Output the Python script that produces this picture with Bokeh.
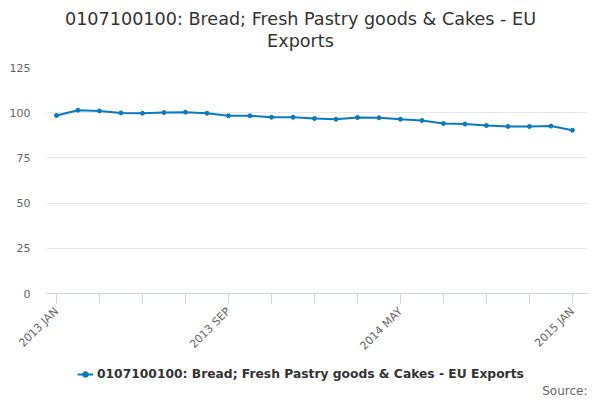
import math
from bokeh.plotting import figure
from bokeh.layouts import column
from bokeh.models import (Label, FixedTicker, Range1d, Legend, LegendItem,
                          ColumnDataSource)
from bokeh.embed import file_html
from bokeh.resources import INLINE

series_name = "0107100100: Bread; Fresh Pastry goods & Cakes - EU Exports"
title_lines = ["0107100100: Bread; Fresh Pastry goods & Cakes - EU", "Exports"]
source_text = "Source:"
months = ["2013 JAN", "2013 FEB", "2013 MAR", "2013 APR", "2013 MAY", "2013 JUN",
          "2013 JUL", "2013 AUG", "2013 SEP", "2013 OCT", "2013 NOV", "2013 DEC",
          "2014 JAN", "2014 FEB", "2014 MAR", "2014 APR", "2014 MAY", "2014 JUN",
          "2014 JUL", "2014 AUG", "2014 SEP", "2014 OCT", "2014 NOV", "2014 DEC",
          "2015 JAN"]
values = [98.5, 101.4, 101.0, 99.9, 99.7, 100.1, 100.3, 99.7, 98.3, 98.3,
          97.5, 97.5, 96.8, 96.4, 97.3, 97.2, 96.4, 95.7, 94.0, 93.7,
          92.9, 92.4, 92.4, 92.6, 90.3]
y_ticks = [0, 25, 50, 75, 100, 125]
x_label_months = ["2013 JAN", "2013 SEP", "2014 MAY", "2015 JAN"]

FONT = "DejaVu Sans"
BLUE = "#0b7bc1"
W = 592
FL, FR = 46, 587   # frame left / right in page pixels (frames are aligned in column)

# ---------- title strip ----------
pt = figure(width=W, height=60, output_backend="svg", toolbar_location=None,
            x_range=Range1d(FL, FR), y_range=Range1d(60, 0),
            x_axis_location=None, y_axis_location=None,
            min_border_left=FL, min_border_right=W - FR,
            min_border_top=0, min_border_bottom=0)
pt.outline_line_color = None
pt.grid.visible = False
for i, txt in enumerate(title_lines):
    pt.add_layout(Label(x=300, y=18 + 22 * i, text=txt, text_align="center",
                        text_baseline="middle", text_font=FONT,
                        text_font_size="17.6px", text_color="#333333"))

# ---------- main chart ----------
idx = list(range(len(months)))
src = ColumnDataSource(dict(x=idx, y=values))

p = figure(width=W, height=300, output_backend="svg", toolbar_location=None,
           x_range=Range1d(-0.465, 24.7), y_range=Range1d(0, 125),
           min_border_left=FL, min_border_right=W - FR, min_border_top=7,
           min_border_bottom=67)
p.outline_line_color = None

p.line("x", "y", source=src, line_color=BLUE, line_width=2)
p.scatter("x", "y", source=src, size=4, fill_color=BLUE, line_color=BLUE)

p.yaxis.ticker = FixedTicker(ticks=y_ticks)
p.yaxis.axis_line_color = None
p.yaxis.major_tick_line_color = None
p.yaxis.minor_tick_line_color = None
p.yaxis.major_label_text_font = FONT
p.yaxis.major_label_text_font_size = "11px"
p.yaxis.major_label_text_color = "#666666"
p.yaxis.major_label_standoff = 10
p.ygrid.ticker = FixedTicker(ticks=y_ticks)
p.ygrid.grid_line_color = "#e6e6e6"
p.xgrid.grid_line_color = None

xt = list(range(0, 25, 2))
p.xaxis.ticker = FixedTicker(ticks=xt)
p.xaxis.major_label_overrides = {t: (months[t] if months[t] in x_label_months else "")
                                 for t in xt}
p.xaxis.major_label_orientation = math.pi / 4
p.xaxis.axis_line_color = "#ccd6eb"
p.xaxis.major_tick_line_color = "#ccd6eb"
p.xaxis.major_tick_in = 0
p.xaxis.major_tick_out = 10
p.xaxis.minor_tick_line_color = None
p.xaxis.major_label_text_font = FONT
p.xaxis.major_label_text_font_size = "11px"
p.xaxis.major_label_text_color = "#666666"
p.xaxis.major_label_standoff = 6

# ---------- legend strip ----------
pl = figure(width=W, height=38, output_backend="svg", toolbar_location=None,
            x_range=Range1d(FL, FR), y_range=Range1d(38, 0),
            x_axis_location=None, y_axis_location=None,
            min_border_left=FL, min_border_right=W - FR,
            min_border_top=0, min_border_bottom=0)
pl.outline_line_color = None
pl.grid.visible = False
l1 = pl.line("x", "y", source=src, line_color=BLUE, line_width=2, visible=False)
l2 = pl.scatter("x", "y", source=src, size=4, fill_color=BLUE, line_color=BLUE,
                visible=False)
legend = Legend(items=[LegendItem(label=series_name, renderers=[l1, l2])],
                orientation="horizontal", location=(77 - FL, 17),
                label_text_font=FONT, label_text_font_size="12.3px",
                label_text_font_style="bold", label_text_color="#333333",
                border_line_color=None, background_fill_alpha=0,
                inactive_fill_alpha=0,
                glyph_width=16, glyph_height=14, label_standoff=4,
                margin=0, padding=0)
pl.add_layout(legend, "center")
pl.add_layout(Label(x=587, y=30, text=source_text, text_align="right",
                    text_baseline="middle", text_font=FONT,
                    text_font_size="12px", text_color="#666666"))

layout = column(pt, p, pl, spacing=0)
open("out.html", "w").write(file_html(layout, INLINE))
